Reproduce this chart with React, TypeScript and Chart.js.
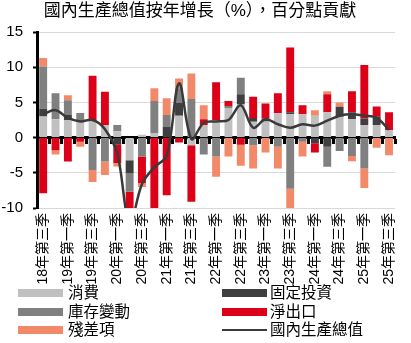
import React, { useEffect, useRef } from "react";
import { Chart, registerables } from "chart.js";
Chart.register(...registerables);

const categories = [
  "18年第三季", "18年第四季", "19年第一季", "19年第二季", "19年第三季", "19年第四季",
  "20年第一季", "20年第二季", "20年第三季", "20年第四季", "21年第一季", "21年第二季",
  "21年第三季", "21年第四季", "22年第一季", "22年第二季", "22年第三季", "22年第四季",
  "23年第一季", "23年第二季", "23年第三季", "23年第四季", "24年第一季", "24年第二季",
  "24年第三季", "24年第四季", "25年第一季", "25年第二季", "25年第三季",
];

const consumption = [3.0, 2.6, 2.5, 2.3, 2.5, 1.8, 0.9, -3.2, 0.4, 0.6, 0, 3.1, -1.1, 1.8, 2.5, 4.2, 4.7, 2.25, 2.3, 3.45, 3.3, 3.3, 3.1, 3.6, 2.97, 2.65, 1.8, 1.8, 1.05];
const fixedInvestment = [1.1, 0, 0.7, 0, 0, 0, -1.0, -1.9, 0, 0, 1.5, 1.8, 0, 0, 0, 0, 1.45, 0.55, 0.4, 0, 0.3, 0, -0.8, -1.3, 1.4, 0.95, 0.9, 1.15, 0];
const inventory = [6.0, 3.7, 2.1, 1.2, -4.6, -3.4, 0.9, -2.6, -2.7, 4.6, 1.7, 2.1, 5.5, -2.4, -2.7, 0.3, 2.35, -1.1, 0, -1.3, -7.25, -0.6, 0, -2.85, -1.9, -2.6, -4.4, 0, 0];
const netExports = [-7.9, -1.8, -3.4, -0.6, 6.3, 4.7, -2.6, -4.5, -3.8, -11.2, -8.2, -0.7, -8.0, 0.8, 5.35, 0.7, -1.0, 3.0, 2.15, 2.85, 9.2, 1.3, -1.3, 2.55, 0, 3.0, 7.6, 1.45, 2.55];
const residual = [1.2, -0.6, 0.7, -0.7, -1.7, -1.9, -0.5, 0, -0.5, 1.8, 2.4, 1.4, 3.6, 2.0, -2.85, -2.7, -3.0, -3.3, -2.1, -3.1, -4.2, -2.1, 0.8, 0.45, 0.6, -0.75, -2.75, -1.45, -2.5];
const gdp = [3.3, 3.9, 2.8, 2.3, 2.5, 1.2, -2.3, -12.3, -6.6, -4.2, -2.6, 7.7, -0.2, 2.1, 2.3, 2.5, 4.6, 1.4, 2.6, 1.9, 1.4, 1.9, 1.7, 2.4, 3.1, 3.3, 3.1, 2.8, 1.1];

const titleText = "國內生產總值按年增長（%），百分點貢獻";
const yMin = -10;
const yMax = 15;
const yStep = 5;

const FONT = "'Liberation Sans', 'Noto Sans CJK TC', Arial, sans-serif";

const C_CONS = "#c0c0c0";
const C_FI = "#3f3f3f";
const C_INV = "#808080";
const C_NX = "#dc0019";
const C_RES = "#f28a6a";
const C_GDP = "#3a3a3a";

const barSeries = [
  { label: "消費", data: consumption, color: C_CONS },
  { label: "固定投資", data: fixedInvestment, color: C_FI },
  { label: "庫存變動", data: inventory, color: C_INV },
  { label: "淨出口", data: netExports, color: C_NX },
  { label: "殘差項", data: residual, color: C_RES },
];

const legendLeft = [
  { label: "消費", color: C_CONS, line: false },
  { label: "庫存變動", color: C_INV, line: false },
  { label: "殘差項", color: C_RES, line: false },
];
const legendRight = [
  { label: "固定投資", color: C_FI, line: false },
  { label: "淨出口", color: C_NX, line: false },
  { label: "國內生產總值", color: C_GDP, line: true },
];

export default function App() {
  const ref = useRef<HTMLCanvasElement | null>(null);

  useEffect(() => {
    if (!ref.current) return;
    const datasets: any[] = barSeries.map((s) => ({
      type: "bar",
      label: s.label,
      data: s.data,
      backgroundColor: s.color,
      borderWidth: 0,
      barPercentage: 0.64,
      categoryPercentage: 1,
      xAxisID: "x",
      yAxisID: "y",
      order: 1,
    }));
    datasets.push({
      type: "line",
      label: "國內生產總值",
      data: gdp,
      borderColor: C_GDP,
      borderWidth: 2.5,
      pointRadius: 0,
      tension: 0.35,
      fill: false,
      stack: "gdp",
      xAxisID: "x",
      yAxisID: "y",
      order: 0,
    });

    const chart = new Chart(ref.current, {
      type: "bar",
      data: { labels: categories, datasets },
      options: {
        responsive: false,
        animation: false,
        layout: { padding: { left: 0, right: 11, top: 0, bottom: 0 } },
        plugins: {
          legend: { display: false },
          tooltip: { enabled: false },
          title: {
            display: true,
            text: titleText,
            color: "#000",
            font: { size: 17, family: FONT, weight: "normal", lineHeight: 1.2 },
            padding: { top: 1, bottom: 10.6 },
          },
        },
        scales: {
          x: {
            type: "category",
            stacked: true,
            offset: true,
            grid: { display: false, drawTicks: false },
            border: { display: false },
            ticks: {
              autoSkip: false,
              minRotation: 90,
              maxRotation: 90,
              padding: 5,
              color: "#000",
              font: { size: 14, family: FONT },
              callback: (_v: any, i: number) => (i % 2 === 0 ? categories[i] : ""),
            },
            afterFit: (s: any) => {
              s.height = 80;
            },
          },
          x2: {
            type: "category",
            axis: "x",
            position: { y: 0 },
            offset: true,
            z: 1,
            grid: {
              display: true,
              drawOnChartArea: false,
              drawTicks: true,
              tickLength: 5,
              tickWidth: 3,
              tickColor: "#000",
              offset: true,
            },
            border: { display: true, color: "#000", width: 3 },
            ticks: { display: false },
          },
          y: {
            stacked: true,
            min: yMin,
            max: yMax,
            ticks: {
              stepSize: yStep,
              padding: 10,
              color: "#000",
              font: { size: 15, family: FONT },
            },
            grid: {
              color: "#d9d9d9",
              lineWidth: 1,
              tickColor: "#000",
              tickLength: 4,
              tickWidth: 2,
            },
            border: { color: "#000", width: 3 },
            afterFit: (s: any) => {
              s.width = 37;
            },
          },
        },
      } as any,
    });
    return () => chart.destroy();
  }, []);

  const rowCenters = [293, 311.5, 330];
  const renderItem = (it: any, i: number, boxLeft: number, gap: number) => (
    <div
      key={it.label}
      style={{
        position: "absolute",
        left: boxLeft,
        top: rowCenters[i] - 10,
        height: 20,
        display: "flex",
        alignItems: "center",
        whiteSpace: "nowrap",
      }}
    >
      <div
        style={{
          width: 45,
          height: it.line ? 2.5 : 8,
          background: it.color,
          marginRight: gap,
        }}
      />
      <span style={{ fontSize: 15.5, color: "#000", lineHeight: "20px" }}>{it.label}</span>
    </div>
  );

  return (
    <div
      style={{
        position: "fixed",
        left: 0,
        top: 0,
        width: 411,
        height: 343,
        background: "#fff",
        fontFamily: FONT,
        overflow: "hidden",
      }}
    >
      <canvas ref={ref} width={411} height={288} style={{ display: "block" }} />
      {legendLeft.map((it, i) => renderItem(it, i, 18, 5))}
      {legendRight.map((it, i) => renderItem(it, i, 222, 3))}
    </div>
  );
}
